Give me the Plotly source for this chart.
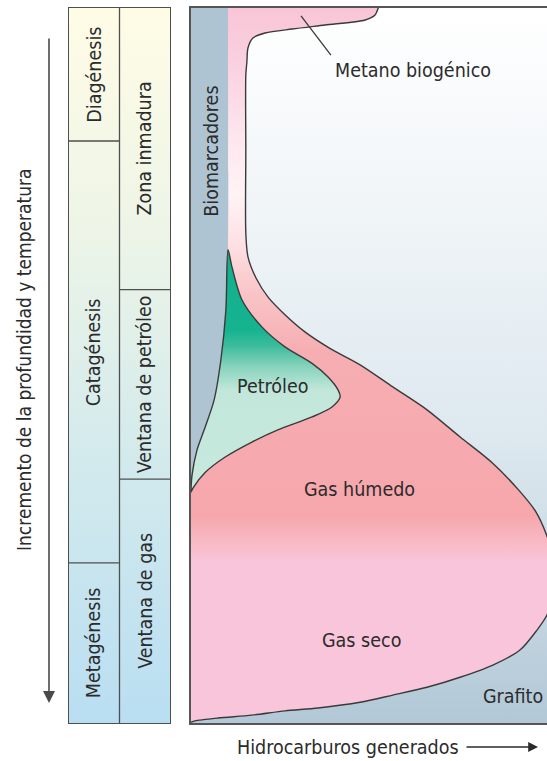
import plotly.graph_objects as go

# ---------------- data (depth: 0 = top/shallow .. 100 = bottom/deep; x: hydrocarbons generated 0..100) -------------
stage_names = ["Diagénesis", "Catagénesis", "Metagénesis"]
stage_bounds = [0, 18.6, 77.6, 100]
zone_names = ["Zona inmadura", "Ventana de petróleo", "Ventana de gas"]
zone_bounds = [0, 39.4, 65.9, 100]

# right edge of the biomarker strip
bio_depth = [0, 33.8, 42.2, 49.2, 54.8, 59.0, 61.8, 65.3, 67.4]
bio_x = [10.4, 10.4, 9.8, 8.4, 6.5, 3.7, 1.7, 0.3, 0.0]

# petroleum (oil) right / lower boundary
oil_depth = [33.8, 36.2, 40.8, 44.6, 47.4, 49.7, 51.6, 53.4, 54.4, 55.8, 57.2, 59.0, 60.7, 62.8, 65.0, 67.1, 67.7]
oil_x = [10.4, 11.5, 14.3, 19.9, 26.4, 34.0, 38.5, 41.3, 41.9, 39.6, 34.0, 24.4, 17.1, 9.6, 3.9, 0.6, 0.0]

# outer envelope of methane + gas generation
gas_depth = [-1.1, 0.14, 0.98, 1.68, 2.38, 2.94, 3.50, 4.20, 5.59, 7.55, 9.37, 19.9, 31.5, 34.8, 37.8, 40.4,
             42.9, 45.3, 47.6, 49.9, 53.0, 56.2, 60.0, 63.6, 67.4, 70.4, 73.6, 76.5, 79.3, 82.4, 84.9, 87.0,
             89.8, 91.9, 93.6, 95.0, 96.1, 97.1, 97.9, 98.3, 98.9, 99.3, 99.7, 99.9]
gas_x = [53.1, 52.5, 51.7, 48.9, 37.6, 28.4, 20.8, 17.4, 16.0, 15.7, 15.4, 15.4, 15.4, 16.0, 18.3, 21.6,
         26.4, 32.0, 39.0, 47.5, 56.7, 66.3, 75.6, 84.6, 92.0, 96.8, 99.8, 101.5, 102.0, 101.5, 100.0, 97.2,
         92.4, 84.8, 75.6, 66.3, 56.7, 47.5, 35.7, 26.4, 17.1, 7.6, 1.1, 0.0]

# labels inside the panel: (text, x, depth, angle)
panel_labels = [("Metano biogénico", 62.4, 8.8, 0), ("Biomarcadores", 5.9, 20.1, -90),
                ("Petróleo", 23.0, 53.0, 0), ("Gas húmedo", 47.2, 67.4, 0),
                ("Gas seco", 48.0, 88.5, 0), ("Grafito", 90.4, 96.3, 0)]
leader_x = [30.9, 39.3]
leader_depth = [1.1, 6.6]

FONT = "DejaVu Sans Condensed, sans-serif"
TXT = "#2b2b2b"
LINE = "#3a3a3a"
FS = 19.5

W, H = 547, 761
ytop, ybot = 8, 723
ydom = [1 - ybot / H, 1 - ytop / H]

fig = go.Figure()

# background of panel (white -> blue grey)
fig.add_trace(go.Scatter(x=[-5, 110, 110, -5], y=[-5, -5, 105, 105], fill="toself", mode="lines",
                         line=dict(width=0), hoverinfo="skip",
                         fillgradient=dict(type="vertical", start=0, stop=100,
                                           colorscale=[[0, "#ffffff"], [0.3, "#eff4f7"], [0.6, "#dde8ef"],
                                                       [0.8, "#c8d9e4"], [1, "#b2c8d6"]])))

# pink methane/gas region
px_ = [-3, -3] + gas_x[::-1] + [53.5]
py_ = [-3, 101] + gas_depth[::-1] + [-3]
fig.add_trace(go.Scatter(x=px_, y=py_, fill="toself", mode="lines", line=dict(width=0, shape="spline", smoothing=0.8),
                         hoverinfo="skip",
                         fillgradient=dict(type="vertical", start=0, stop=100,
                                           colorscale=[[0, "#f8c5d7"], [0.08, "#fad1df"], [0.18, "#fde6ed"],
                                                       [0.26, "#fff3f5"], [0.33, "#fde0e3"], [0.40, "#f9c4c7"],
                                                       [0.48, "#f6aeb2"], [0.71, "#f6a7ac"], [0.745, "#f8b8c4"],
                                                       [0.775, "#f9c5da"], [1, "#f9c5db"]])))

# biomarker strip
sx = [-3, 10.4] + bio_x + [-3]
sy = [-3, -3] + bio_depth + [70]
fig.add_trace(go.Scatter(x=sx, y=sy, fill="toself", mode="lines", fillcolor="#afc4d2",
                         line=dict(width=0, shape="spline", smoothing=0.8), hoverinfo="skip"))

# petroleum
gx = oil_x + bio_x[1:][::-1]
gy = oil_depth + bio_depth[1:][::-1]
fig.add_trace(go.Scatter(x=gx, y=gy, fill="toself", mode="lines",
                         line=dict(width=1.4, color=LINE, shape="spline", smoothing=0.8), hoverinfo="skip",
                         fillgradient=dict(type="vertical", start=oil_depth[0], stop=oil_depth[-1],
                                           colorscale=[[0, "#12b08c"], [0.33, "#15b38f"], [0.40, "#3ebd9d"],
                                                       [0.48, "#85d2bb"], [0.58, "#c2e7da"], [1, "#c8e9de"]])))

# outer envelope outline
fig.add_trace(go.Scatter(x=gas_x, y=gas_depth, mode="lines",
                         line=dict(width=1.4, color=LINE, shape="spline", smoothing=0.8), hoverinfo="skip"))

# leader line
fig.add_trace(go.Scatter(x=leader_x, y=leader_depth, mode="lines", line=dict(width=1.3, color=LINE),
                         hoverinfo="skip"))

# ---------------- table on the left ----------------
fig.add_trace(go.Scatter(x=[0, 2, 2, 0], y=[0, 0, 100, 100], fill="toself", mode="lines", line=dict(width=0),
                         xaxis="x2", yaxis="y2", hoverinfo="skip",
                         fillgradient=dict(type="vertical", start=0, stop=100,
                                           colorscale=[[0, "#fffce6"], [0.3, "#eef5e7"], [0.6, "#d5ebec"],
                                                       [1, "#b9def2"]])))

shapes = []
lc = dict(color="#4f4f4f", width=1.3)
shapes.append(dict(type="line", xref="x2", yref="y2", x0=1, x1=1, y0=0, y1=100, line=lc))
for b in stage_bounds[1:-1]:
    shapes.append(dict(type="line", xref="x2", yref="y2", x0=0, x1=1, y0=b, y1=b, line=lc))
for b in zone_bounds[1:-1]:
    shapes.append(dict(type="line", xref="x2", yref="y2", x0=1, x1=2, y0=b, y1=b, line=lc))

C = dict(xanchor="center", yanchor="middle", showarrow=False)
annotations = []
for i, name in enumerate(stage_names):
    annotations.append(dict(text=name, x=0.5, y=(stage_bounds[i] + stage_bounds[i + 1]) / 2, xref="x2", yref="y2",
                            textangle=-90, font=dict(family=FONT, size=FS, color=TXT), **C))
for i, name in enumerate(zone_names):
    annotations.append(dict(text=name, x=1.5, y=(zone_bounds[i] + zone_bounds[i + 1]) / 2, xref="x2", yref="y2",
                            textangle=-90, font=dict(family=FONT, size=FS, color=TXT), **C))

for text, x, d, ang in panel_labels:
    annotations.append(dict(text=text, x=x, y=d, xref="x", yref="y", textangle=ang,
                            font=dict(family=FONT, size=FS, color=TXT), **C))

# axis titles / arrows
annotations.append(dict(text="Incremento de la profundidad y temperatura", x=24 / W, y=1 - 360 / H,
                        xref="paper", yref="paper", textangle=-90,
                        font=dict(family=FONT, size=FS - 0.5, color=TXT), **C))
annotations.append(dict(text="", x=49 / W, y=1 - 703 / H, xref="paper", yref="paper", showarrow=True,
                        ax=0, ay=-666, axref="pixel", ayref="pixel", arrowhead=2, arrowsize=1.5,
                        arrowwidth=1.6, arrowcolor="#4a4a4a"))
annotations.append(dict(text="Hidrocarburos generados", x=348 / W, y=1 - 747 / H, xref="paper", yref="paper",
                        font=dict(family=FONT, size=FS, color=TXT), **C))
annotations.append(dict(text="", x=538 / W, y=1 - 747 / H, xref="paper", yref="paper", showarrow=True,
                        ax=-73, ay=0, axref="pixel", ayref="pixel", arrowhead=2, arrowsize=1.4,
                        arrowwidth=1.4, arrowcolor="#2b2b2b"))

axis_common = dict(showgrid=False, zeroline=False, showticklabels=False, ticks="")
fig.update_layout(
    width=W, height=H, autosize=False, margin=dict(l=0, r=0, t=0, b=0),
    paper_bgcolor="white", plot_bgcolor="rgba(0,0,0,0)", showlegend=False,
    xaxis=dict(domain=[191 / W, 1.0], range=[0, 100], showline=True, mirror=True, linecolor="#555555",
               linewidth=1.5, anchor="y", **axis_common),
    yaxis=dict(domain=ydom, range=[100, 0], showline=True, mirror=False, linecolor="#555555",
               linewidth=1.5, anchor="x", **axis_common),
    xaxis2=dict(domain=[69 / W, 170 / W], range=[0, 2], showline=True, mirror=True, linecolor="#4f4f4f",
                linewidth=1.3, anchor="y2", **axis_common),
    yaxis2=dict(domain=ydom, range=[100, 0], showline=True, mirror=True, linecolor="#4f4f4f",
                linewidth=1.3, anchor="x2", **axis_common),
    shapes=shapes, annotations=annotations,
)

fig.write_html("out.html", config={"displayModeBar": False},
               post_script="document.body.style.margin='0';document.body.style.overflow='hidden';")
